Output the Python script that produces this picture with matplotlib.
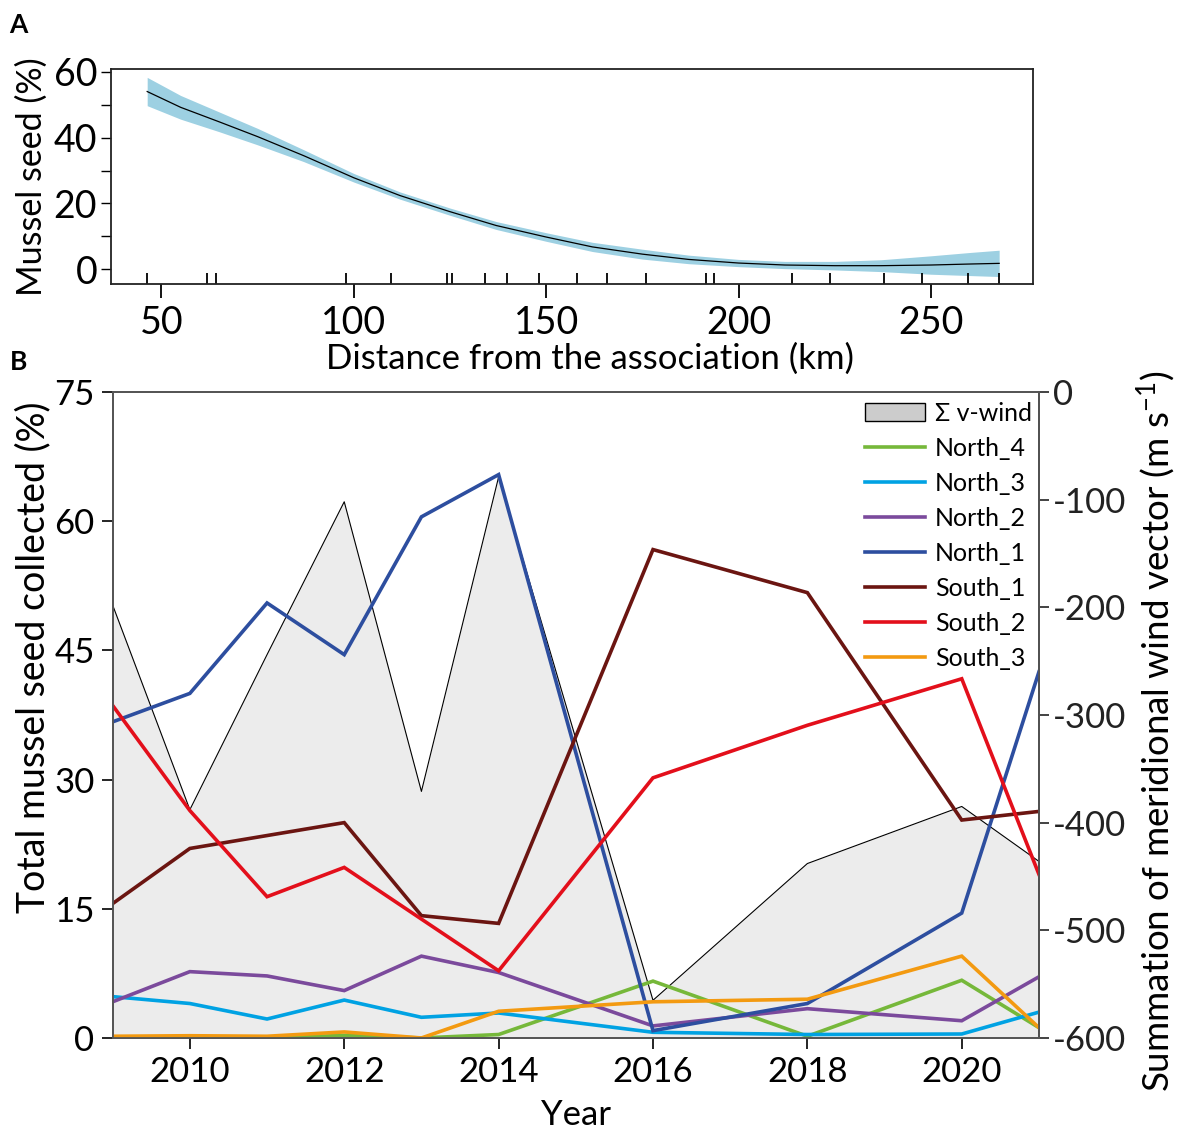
import matplotlib
matplotlib.use("Agg")
import matplotlib.pyplot as plt
from matplotlib.patches import Patch

plt.rcParams['font.family'] = ['Lato', 'DejaVu Sans']
plt.rcParams['mathtext.default'] = 'regular'
plt.rcParams['axes.unicode_minus'] = False

# panel A: fitted curve of mussel seed vs distance
dist = [46.3, 55, 65, 75, 87, 100, 112, 125, 137, 150, 162, 175, 187, 200, 212, 225, 237, 250, 260, 267.7]
fit = [54.0, 49.2, 44.8, 40.3, 34.5, 27.8, 22.4, 17.5, 13.3, 9.8, 6.8, 4.6, 3.0, 1.9, 1.3, 1.1, 1.1, 1.3, 1.6, 1.8]
half_ci = [4.3, 3.6, 3.0, 2.5, 1.8, 1.3, 1.1, 1.1, 1.2, 1.3, 1.4, 1.5, 1.3, 1.1, 1.1, 1.3, 1.8, 2.8, 3.5, 4.0]
rug = [46.3, 61.8, 64.2, 98.0, 109.7, 124.1, 125.5, 134.0, 139.9, 148.2, 158.0, 165.9, 175.8,
       191.6, 193.7, 213.9, 223.8, 237.9, 247.7, 259.6, 267.7]

# panel B: seed collected per site and summed v-wind
years = [2009, 2010, 2011, 2012, 2013, 2014, 2016, 2018, 2020, 2021]
wind = [-198, -388, -244, -102, -371, -79, -565, -438, -385, -436]
north_4 = [0.0, 0.0, 0.0, 0.3, 0.0, 0.4, 6.6, 0.2, 6.7, 1.2]
north_3 = [4.8, 4.0, 2.2, 4.4, 2.4, 2.9, 0.66, 0.4, 0.46, 3.0]
north_2 = [4.2, 7.7, 7.2, 5.5, 9.5, 7.6, 1.4, 3.4, 2.0, 7.1]
north_1 = [36.7, 40.0, 50.5, 44.5, 60.5, 65.4, 0.85, 4.0, 14.5, 42.5]
south_1 = [15.6, 22.0, 23.5, 25.0, 14.2, 13.3, 56.7, 51.7, 25.3, 26.3]
south_2 = [38.6, 26.4, 16.4, 19.8, 13.8, 7.8, 30.2, 36.3, 41.7, 19.0]
south_3 = [0.2, 0.26, 0.2, 0.7, 0.0, 3.1, 4.2, 4.5, 9.5, 1.2]

series = [
    ('North_4', north_4, '#76b83a'),
    ('North_3', north_3, '#00a2e3'),
    ('North_2', north_2, '#7b4a9c'),
    ('North_1', north_1, '#2d4e9f'),
    ('South_1', south_1, '#6b1511'),
    ('South_2', south_2, '#e30f1b'),
    ('South_3', south_3, '#f39a11'),
]

fig = plt.figure(figsize=(11.81, 11.41), dpi=100)

# ---- A
axA = fig.add_axes([0.094, 0.751, 0.7807, 0.1884])
lo = [f - h for f, h in zip(fit, half_ci)]
hi = [f + h for f, h in zip(fit, half_ci)]
axA.fill_between(dist, lo, hi, color='#9dd0e2', lw=0)
axA.plot(dist, fit, color='black', lw=0.9)
axA.set_xlim(36.9, 276.5)
axA.set_ylim(-4.5, 60.8)
axA.set_xticks([50, 100, 150, 200, 250])
axA.set_xticks(rug, minor=True)
axA.set_yticks([0, 20, 40, 60])
axA.set_yticks([10, 30, 50], minor=True)
axA.tick_params(axis='x', which='major', direction='out', length=10, width=1.3, labelsize=27, pad=5)
axA.tick_params(axis='x', which='minor', direction='in', length=8, width=1.3)
axA.tick_params(axis='y', which='both', direction='out', length=7, width=1.0, labelsize=27, pad=3)
for s in axA.spines.values():
    s.set_linewidth(1.3)
    s.set_color('#222222')
axA.set_ylabel('Mussel seed (%)', fontsize=24.5, labelpad=4)
axA.set_xlabel('Distance from the association (km)', fontsize=25, labelpad=1)
axA.xaxis.label.set_x(0.52)

# ---- B
ax = fig.add_axes([0.0954, 0.0903, 0.7843, 0.5662])
ax2 = ax.twinx()
ax2.fill_between(years, wind, -600, color='#ececec', lw=0)
ax2.plot(years, wind, color='black', lw=0.8)
ax2.set_ylim(-600, 0)
ax2.set_yticks([0, -100, -200, -300, -400, -500, -600])
ax2.tick_params(axis='y', direction='out', length=7, width=1.2, labelsize=25, pad=3, colors='#222222')
ax2.set_ylabel(r'Summation of meridional wind vector (m s$^{-1}$)', fontsize=26.5, labelpad=6)
ax2.yaxis.label.set_y(0.474)

ax.set_zorder(ax2.get_zorder() + 1)
ax.patch.set_visible(False)
handles = [Patch(facecolor='#cccccc', edgecolor='black', lw=1.0, label='Σ v-wind')]
for name, vals, col in series:
    h, = ax.plot(years, vals, color=col, lw=2.6, label=name, solid_joinstyle='miter')
    handles.append(h)
ax.set_xlim(2009, 2021)
ax.set_ylim(0, 75)
ax.set_xticks([2010, 2012, 2014, 2016, 2018, 2020])
ax.set_yticks([0, 15, 30, 45, 60, 75])
ax.tick_params(axis='both', direction='out', length=8, width=1.2, labelsize=25, pad=5)
ax.set_ylabel('Total mussel seed collected (%)', fontsize=27, labelpad=2)
ax.yaxis.label.set_y(0.59)
ax.set_xlabel('Year', fontsize=25, labelpad=8)
for a in (ax, ax2):
    for s in a.spines.values():
        s.set_linewidth(1.3)
        s.set_color('#555555')
ax2.spines['right'].set_color('#222222')

ax.legend(handles=handles, loc='upper right', frameon=False, fontsize=18,
          handlelength=2.4, handletextpad=0.4, labelspacing=0.48,
          borderaxespad=0.0, bbox_to_anchor=(1.003, 1.0))

fig.text(0.008, 0.978, 'A', fontsize=19, fontweight='bold', va='center')
fig.text(0.008, 0.683, 'B', fontsize=19, fontweight='bold', va='center')

fig.savefig('out.png', dpi=100)
